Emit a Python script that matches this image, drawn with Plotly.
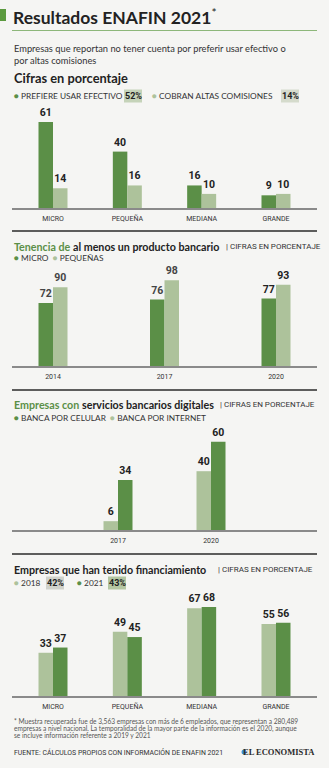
import plotly.graph_objects as go

# ---- data ----
tamanos = ["MICRO", "PEQUEÑA", "MEDIANA", "GRANDE"]
prefiere_efectivo = [61, 40, 16, 9]
altas_comisiones = [14, 16, 10, 10]

anios_tenencia = ["2014", "2017", "2020"]
tenencia_micro = [72, 76, 77]
tenencia_pequenas = [90, 98, 93]

anios_digital = ["2017", "2020"]
banca_celular = [34, 60]
banca_internet = [6, 40]

financiamiento_2018 = [33, 49, 67, 55]
financiamiento_2021 = [37, 45, 68, 56]

# ---- styling ----
W, H = 329, 768
BG = "#f5f5f3"
DARK = "#5b8f47"
LIGHT = "#adc29b"
INK = "#222222"
GREY = "#444444"
NARROW = "Roboto, sans-serif"
SANS = "Lato, Open Sans, sans-serif"
SERIF = "Liberation Serif, DejaVu Serif, serif"


def fx(x):
    return x / W


def fy(y):
    return 1 - y / H


X0, X1 = 12, 317

fig = go.Figure()


def add_pair(idx, cats, first, second, c1, c2, w, fonts1=None, fonts2=None):
    xa = "x" if idx == 1 else f"x{idx}"
    ya = "y" if idx == 1 else f"y{idx}"
    for vals, col, off, fonts in ((first, c1, -w, fonts1), (second, c2, 0, fonts2)):
        fig.add_trace(go.Bar(
            x=cats, y=vals, xaxis=xa, yaxis=ya,
            marker=dict(color=col, line=dict(width=0)),
            width=w, offset=off,
            text=[str(v) for v in vals], textposition="outside",
            cliponaxis=False,
            textfont=dict(family=NARROW, size=10.5, weight="bold",
                          color=fonts if fonts else INK),
            hoverinfo="skip", showlegend=False,
        ))


# charts: baseline px, top px, px per unit, first category centre, spacing
charts = {
    1: dict(base=208, top=108, scale=1.41, c0=53, step=74.33),
    2: dict(base=366, top=266, scale=0.875, c0=53, step=111.5),
    3: dict(base=530, top=430, scale=1.47, c0=118, step=93.0),
    4: dict(base=696, top=596, scale=1.31, c0=53, step=74.33),
}

add_pair(1, tamanos, prefiere_efectivo, altas_comisiones, DARK, LIGHT, 14.5 / 74.33)
add_pair(2, anios_tenencia, tenencia_micro, tenencia_pequenas, DARK, LIGHT, 14.5 / 111.5,
         fonts1=[GREY, GREY, INK], fonts2=[GREY, GREY, INK])
add_pair(3, anios_digital, banca_internet, banca_celular, LIGHT, DARK, 14.5 / 93.0)
add_pair(4, tamanos, financiamiento_2018, financiamiento_2021, LIGHT, DARK, 14.5 / 74.33)

layout = dict(
    width=W, height=H, margin=dict(l=0, r=0, t=0, b=0),
    paper_bgcolor=BG, plot_bgcolor=BG, barmode="overlay",
    showlegend=False,
)
for i, c in charts.items():
    lo = -(c["c0"] - X0) / c["step"]
    hi = lo + (X1 - X0) / c["step"]
    xk = "xaxis" if i == 1 else f"xaxis{i}"
    yk = "yaxis" if i == 1 else f"yaxis{i}"
    ys = "y" if i == 1 else f"y{i}"
    xs = "x" if i == 1 else f"x{i}"
    layout[xk] = dict(
        domain=[fx(X0), fx(X1)], anchor=ys, type="category",
        range=[lo, hi], showgrid=False, zeroline=False,
        showline=True, linecolor="#8a8a8a", linewidth=1.5,
        ticks="outside", ticklen=3, tickcolor="rgba(0,0,0,0)",
        tickfont=dict(family=NARROW, size=7, color="#333333"),
        fixedrange=True,
    )
    layout[yk] = dict(
        domain=[fy(c["base"]), fy(c["top"])], anchor=xs,
        range=[0, (c["base"] - c["top"]) / c["scale"]],
        visible=False, fixedrange=True,
    )
fig.update_layout(**layout)

shapes = []
# title marker and rule
shapes.append(dict(type="rect", xref="paper", yref="paper",
                   x0=fx(0), x1=fx(6), y0=fy(21), y1=fy(9),
                   fillcolor="#5b9a3e", line=dict(width=0)))
shapes.append(dict(type="line", xref="paper", yref="paper",
                   x0=fx(X0), x1=fx(X1), y0=fy(30.5), y1=fy(30.5),
                   line=dict(color="#8db77a", width=1)))
# section separators
for yy in (231, 390, 554):
    shapes.append(dict(type="line", xref="paper", yref="paper",
                       x0=fx(X0), x1=fx(X1), y0=fy(yy), y1=fy(yy),
                       line=dict(color="#2a2a2a", width=1.5)))
# highlighted totals
for x0, x1, yc, col in ((124, 142, 96, "#c5d3b9"), (281, 299, 96, "#d5dbcc"),
                        (46, 64, 583, "#d0d2cb"), (108, 126, 583, "#b4c6a2")):
    shapes.append(dict(type="rect", xref="paper", yref="paper",
                       x0=fx(x0), x1=fx(x1), y0=fy(yc + 6.5), y1=fy(yc - 6.5),
                       fillcolor=col, line=dict(width=0), layer="below"))
# logo globe
shapes.append(dict(type="circle", xref="paper", yref="paper",
                   x0=fx(241.5), x1=fx(246.5), y0=fy(754.5), y1=fy(749.5),
                   fillcolor="#3f8fd8", line=dict(width=0)))
fig.update_layout(shapes=shapes)

ann = []


def txt(x, y, s, size, color=INK, family=SANS, anchor="left"):
    ann.append(dict(x=fx(x), y=fy(y), xref="paper", yref="paper", text=s,
                    showarrow=False, xanchor=anchor, yanchor="middle",
                    font=dict(family=family, size=size, color=color)))


def heading(y, green, bold, unit_x, size=10.7):
    lead = f"<span style='color:{DARK}'><b>{green}</b></span> " if green else ""
    txt(12, y, f"{lead}<b>{bold}</b>", size)
    txt(unit_x, y, "| CIFRAS EN PORCENTAJE", 8, "#333333", NARROW)


txt(11, 17, "<b>Resultados ENAFIN 2021</b><sup>*</sup>", 17.5)
txt(12, 48, "Empresas que reportan no tener cuenta por preferir usar efectivo o", 9.3, "#333333")
txt(12, 60, "por altas comisiones", 9.3, "#333333")
txt(12, 78, "<b>Cifras en porcentaje</b>", 12.8)

# legend: chart 1
txt(12, 96, f"<span style='color:{DARK}'>●</span> PREFIERE USAR EFECTIVO", 8.3, "#333333")
txt(133, 96, "<b>52%</b>", 9, INK, NARROW, "center")
txt(150, 96, f"<span style='color:{LIGHT}'>●</span> COBRAN ALTAS COMISIONES", 8.3, "#333333")
txt(290, 96, "<b>14%</b>", 9, INK, NARROW, "center")

# chart 2 heading
heading(247, "Tenencia de", "al menos un producto bancario", 224)
txt(12, 258, f"<span style='color:{DARK}'>●</span> MICRO  <span style='color:{LIGHT}'>●</span> PEQUEÑAS",
    8.3, "#333333")

# chart 3 heading
heading(404, "Empresas con", "servicios bancarios digitales", 218)
txt(12, 418, f"<span style='color:{DARK}'>●</span> BANCA POR CELULAR  <span style='color:{LIGHT}'>●</span> BANCA POR INTERNET",
    8.3, "#333333")

# chart 4 heading
heading(569, "", "Empresas que han tenido financiamiento", 216)
txt(12, 583, f"<span style='color:{LIGHT}'>●</span> 2018", 8.3, "#333333")
txt(55, 583, "<b>42%</b>", 9, INK, NARROW, "center")
txt(75, 583, f"<span style='color:{DARK}'>●</span> 2021", 8.3, "#333333")
txt(117, 583, "<b>43%</b>", 9, INK, NARROW, "center")

# footnote and source
txt(12, 721, "* Muestra recuperada fue de 3,563 empresas con más de 6 empleados, que representan a 280,489", 6.6, "#555555")
txt(12, 728, "empresas a nivel nacional. La temporalidad de la mayor parte de la información es el 2020, aunque", 6.6, "#555555")
txt(12, 735, "se incluye información referente a 2019 y 2021", 6.6, "#555555")
txt(12, 752, "FUENTE: CÁLCULOS PROPIOS CON INFORMACIÓN DE ENAFIN 2021", 6.9, "#333333", NARROW)
txt(317, 752, "<b>EL ECONOMISTA</b>", 8.5, "#2a2a2a", SERIF, "right")

fig.update_layout(annotations=ann)

fig.write_html("out.html")
